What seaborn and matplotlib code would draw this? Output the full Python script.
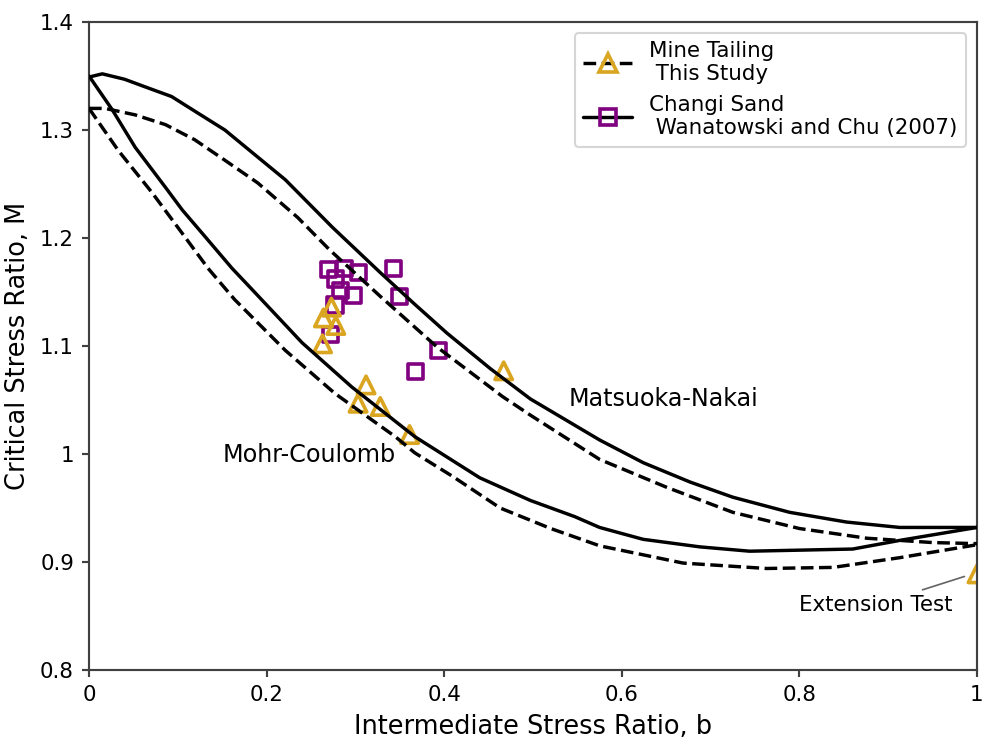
import numpy as np
import pandas as pd
import matplotlib
matplotlib.use("Agg")
import matplotlib.pyplot as plt
from matplotlib.lines import Line2D
from matplotlib.ticker import FuncFormatter
import seaborn as sns

# ---------------- data ----------------
# Matsuoka-Nakai, Changi Sand (solid)
mn_changi_b = [0, 0.015, 0.04, 0.063, 0.093, 0.12, 0.153, 0.184, 0.221, 0.274, 0.328,
               0.365, 0.403, 0.452, 0.497, 0.575, 0.624, 0.677, 0.725, 0.789, 0.853,
               0.913, 1.0]
mn_changi_M = [1.349, 1.352, 1.347, 1.340, 1.331, 1.317, 1.300, 1.279, 1.254, 1.210, 1.168,
               1.140, 1.112, 1.079, 1.051, 1.013, 0.992, 0.974, 0.960, 0.946, 0.937,
               0.932, 0.932]
# Matsuoka-Nakai, Mine Tailing (dashed)
mn_mine_b = [0, 0.018, 0.052, 0.086, 0.119, 0.153, 0.19, 0.235, 0.271, 0.328, 0.392,
             0.466, 0.497, 0.575, 0.651, 0.725, 0.80, 0.876, 0.95, 1.0]
mn_mine_M = [1.320, 1.320, 1.314, 1.305, 1.291, 1.272, 1.251, 1.219, 1.189, 1.146, 1.099,
             1.053, 1.036, 0.995, 0.969, 0.946, 0.931, 0.922, 0.918, 0.917]
# Mohr-Coulomb, Changi Sand (solid)
mc_changi_b = [0, 0.026, 0.052, 0.086, 0.105, 0.131, 0.161, 0.184, 0.24, 0.296, 0.367,
               0.44, 0.497, 0.547, 0.575, 0.624, 0.688, 0.744, 0.86, 0.913, 1.0]
mc_changi_M = [1.350, 1.319, 1.284, 1.247, 1.226, 1.201, 1.172, 1.152, 1.103, 1.062, 1.016,
               0.978, 0.957, 0.942, 0.932, 0.921, 0.914, 0.910, 0.912, 0.920, 0.932]
# Mohr-Coulomb, Mine Tailing (dashed)
mc_mine_b = [0, 0.033, 0.071, 0.108, 0.134, 0.164, 0.221, 0.277, 0.345, 0.367, 0.41,
             0.463, 0.52, 0.575, 0.669, 0.763, 0.838, 0.913, 1.0]
mc_mine_M = [1.320, 1.281, 1.242, 1.201, 1.172, 1.143, 1.096, 1.056, 1.016, 1.001, 0.979,
             0.950, 0.931, 0.915, 0.899, 0.894, 0.895, 0.904, 0.916]

# Test points
mine_b = [0.273, 0.264, 0.278, 0.263, 0.312, 0.303, 0.328, 0.361, 0.467, 1.0]
mine_M = [1.136, 1.126, 1.119, 1.102, 1.064, 1.047, 1.044, 1.018, 1.077, 0.889]
changi_b = [0.270, 0.288, 0.303, 0.278, 0.283, 0.298, 0.277, 0.272, 0.343, 0.350, 0.394, 0.368]
changi_M = [1.171, 1.172, 1.168, 1.162, 1.151, 1.147, 1.138, 1.111, 1.172, 1.146, 1.096, 1.076]

x_ticks = [0, 0.2, 0.4, 0.6, 0.8, 1.0]
y_ticks = [0.8, 0.9, 1.0, 1.1, 1.2, 1.3, 1.4]

MINE_COLOR = "#DAA520"
CHANGI_COLOR = "#800080"

# ---------------- plot ----------------
sns.set_style("ticks")
plt.rcParams["font.family"] = ["DejaVu Sans"]
plt.rcParams["text.color"] = "black"
plt.rcParams["axes.labelcolor"] = "black"
plt.rcParams["xtick.color"] = "black"
plt.rcParams["ytick.color"] = "black"

DPI = 154
fig = plt.figure(figsize=(985 / DPI, 738 / DPI), dpi=DPI)
ax = fig.add_axes([89 / 985, 1 - 670 / 738, (977 - 89) / 985, (670 - 22) / 738])

sns.scatterplot(x=changi_b, y=changi_M, ax=ax, marker="s", s=50,
                facecolor="none", edgecolor=CHANGI_COLOR, linewidth=1.7, zorder=2)
sns.scatterplot(x=mine_b, y=mine_M, ax=ax, marker="^", s=66,
                facecolor="none", edgecolor=MINE_COLOR, linewidth=1.7, zorder=2.1)

for bb, mm, ls in [(mn_changi_b, mn_changi_M, "-"), (mc_changi_b, mc_changi_M, "-"),
                   (mn_mine_b, mn_mine_M, "--"), (mc_mine_b, mc_mine_M, "--")]:
    sns.lineplot(x=bb, y=mm, ax=ax, color="black", linestyle=ls, linewidth=1.6,
                 sort=False, estimator=None, zorder=3)

ax.set_xlim(0, 1)
ax.set_ylim(0.8, 1.4)
ax.set_xticks(x_ticks)
ax.set_yticks(y_ticks)
fmt = FuncFormatter(lambda v, p: f"{v:g}")
ax.xaxis.set_major_formatter(fmt)
ax.yaxis.set_major_formatter(fmt)
ax.tick_params(labelsize=10, length=3.5, width=1, color="0.25", labelcolor="black")
for sp in ax.spines.values():
    sp.set_visible(True)
    sp.set_color("0.25")
    sp.set_linewidth(1.0)

ax.set_xlabel("Intermediate Stress Ratio, b", fontsize=12)
ax.set_ylabel("Critical Stress Ratio, M", fontsize=12)

ax.text(0.15, 0.993, "Mohr-Coulomb", fontsize=11.2)
ax.text(0.54, 1.044, "Matsuoka-Nakai", fontsize=11.2)
ax.annotate("Extension Test", xy=(0.995, 0.889), xytext=(0.80, 0.855), fontsize=10,
            arrowprops=dict(arrowstyle="-", color="0.4", lw=0.8, shrinkA=0, shrinkB=4))

h_mine = (Line2D([], [], color="black", linestyle="--", linewidth=1.6),
          Line2D([], [], color=MINE_COLOR, marker="^", markersize=8.1, linestyle="none",
                 markerfacecolor="none", markeredgewidth=1.7))
h_changi = (Line2D([], [], color="black", linestyle="-", linewidth=1.6),
            Line2D([], [], color=CHANGI_COLOR, marker="s", markersize=7.1, linestyle="none",
                   markerfacecolor="none", markeredgewidth=1.7))
ax.legend([h_mine, h_changi],
          ["Mine Tailing\n This Study", "Changi Sand\n Wanatowski and Chu (2007)"],
          loc="upper right", fontsize=10, handlelength=2.3, handletextpad=0.8,
          frameon=True)

fig.savefig("out.png", dpi=DPI)
